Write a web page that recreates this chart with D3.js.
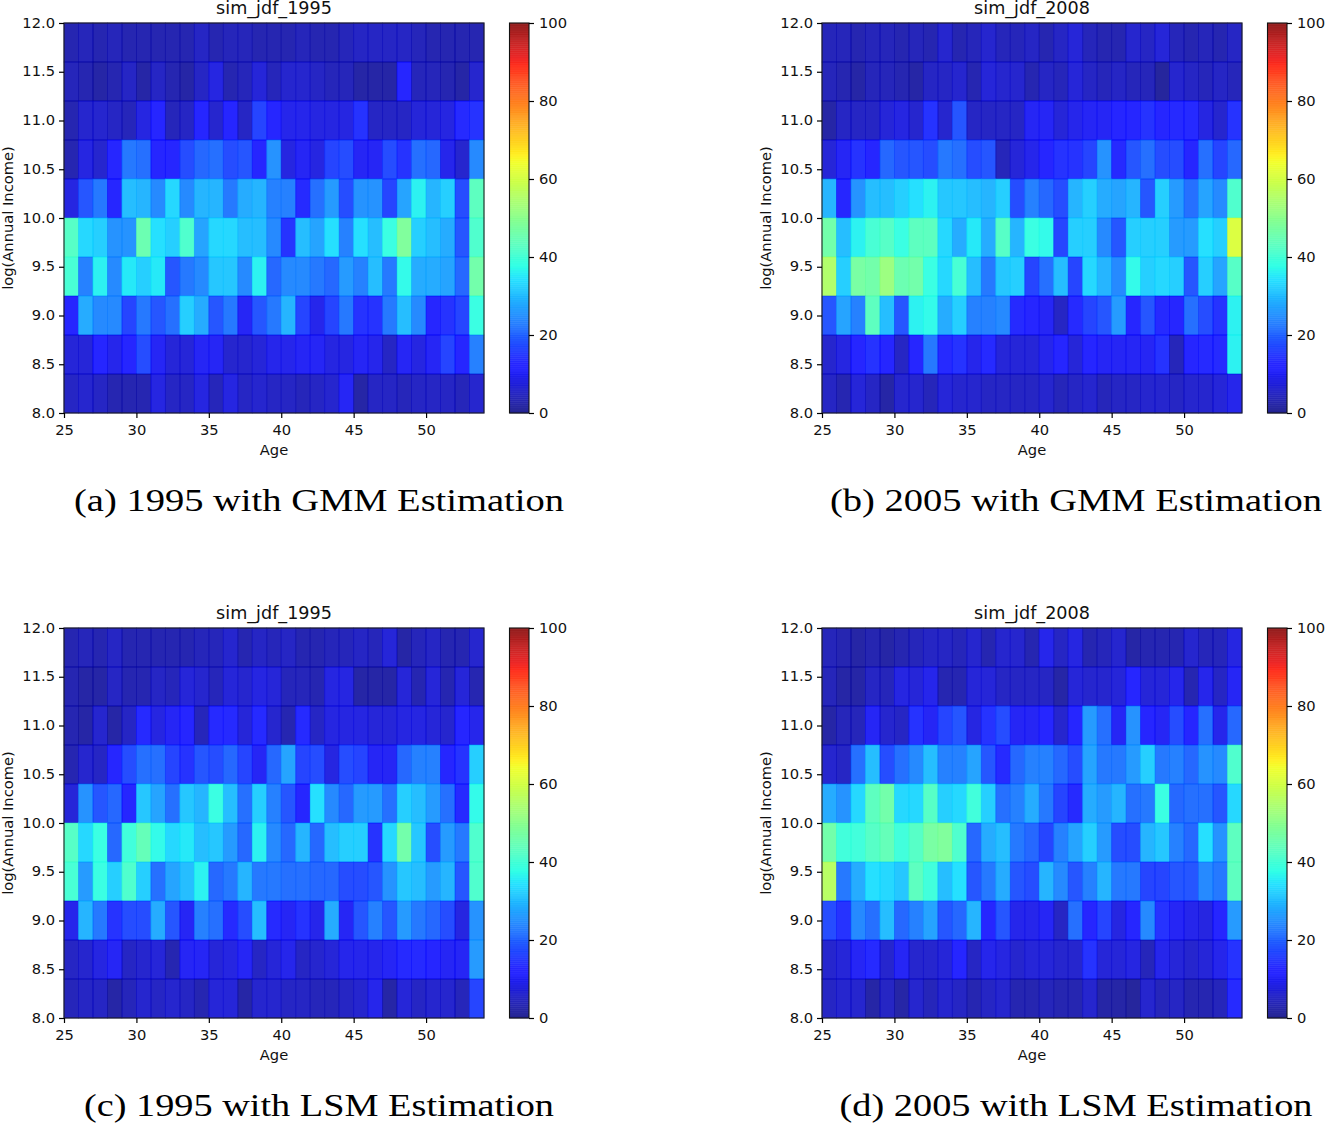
<!DOCTYPE html>
<html>
<head>
<meta charset="utf-8">
<script src="https://d3js.org/d3.v7.min.js"></script>
<style>
body { margin: 0; background: #fff; }
text { font-family: "DejaVu Sans"; fill: #111; }
.caption { font-family: "Liberation Serif"; fill: #000; }
</style>
</head>
<body>
<script>
var w = 1325;
var h = 1125;

var ageEdges = [25,26,27,28,29,30,31,32,33,34,35,36,37,38,39,40,41,42,43,44,45,46,47,48,49,50,51,52,53,54];
var incomeEdges = [12.0,11.6,11.2,10.8,10.4,10.0,9.6,9.2,8.8,8.4,8.0];
var ageTicks = [25,30,35,40,45,50];
var incomeTicks = [8,8.5,9,9.5,10,10.5,11,11.5,12];
var colorTicks = [0,20,40,60,80,100];

// each row runs top to bottom, 12.0 down to 8.0
var gmm1995 = [
  [3,4,3,4,3,3,3,3,3,5,3,4,4,3,3,3,4,3,3,4,5,5,5,5,4,3,3,3,3],
  [4,3,2,3,5,2,5,3,2,5,8,3,4,7,4,6,6,5,4,4,2,2,2,12,4,4,3,2,6],
  [3,6,6,5,4,8,11,4,5,11,6,11,5,16,11,9,9,8,8,8,14,5,5,5,7,7,8,13,14],
  [3,8,6,11,22,21,12,12,17,20,21,17,18,11,25,8,10,8,16,17,10,10,17,14,21,20,9,6,24],
  [8,18,22,11,30,29,24,33,24,29,29,22,28,29,23,23,13,21,26,17,25,25,16,27,36,29,32,17,43],
  [42,33,32,25,25,45,34,32,41,27,33,33,30,30,24,14,30,27,34,23,34,30,38,48,32,30,28,18,41],
  [40,23,36,24,35,32,35,18,22,24,31,31,24,36,20,24,24,22,20,26,23,30,22,37,28,28,27,20,46],
  [11,28,24,24,16,22,18,21,32,28,18,22,10,18,22,29,16,9,16,22,14,14,22,30,24,11,14,16,38],
  [7,7,11,9,11,17,10,7,7,10,10,6,6,7,9,9,10,10,8,8,10,9,5,10,8,10,16,11,23],
  [5,6,5,3,3,3,8,5,5,8,4,8,5,6,5,5,4,5,6,10,2,5,5,4,5,5,5,4,6]
];
var gmm2005 = [
  [4,4,3,4,4,3,4,3,6,3,4,6,4,4,5,3,5,7,4,3,3,6,5,7,4,3,4,3,5],
  [4,3,2,4,4,3,2,5,5,6,3,7,6,6,3,5,4,7,5,4,5,4,4,1,6,5,4,5,4],
  [2,5,5,5,7,8,6,14,6,18,5,5,5,5,10,10,7,9,10,10,11,11,14,11,13,13,8,6,14],
  [7,10,14,11,20,18,18,17,22,21,17,18,4,7,9,11,14,14,16,25,13,18,21,17,17,11,21,16,20],
  [29,11,25,30,30,32,34,36,31,31,30,29,32,17,23,20,17,29,32,28,27,29,18,32,26,21,27,24,41],
  [46,30,36,40,42,38,43,43,33,28,35,28,42,29,38,37,16,32,32,24,18,32,32,32,26,26,34,32,61],
  [55,32,47,46,52,45,46,38,33,40,30,22,31,32,16,21,30,16,33,29,24,37,32,33,32,18,32,27,42],
  [18,27,23,43,30,18,36,37,28,32,23,23,24,13,11,10,5,13,16,18,26,11,18,13,11,21,17,14,36],
  [6,8,11,14,11,5,11,22,13,14,9,13,7,7,7,9,11,7,11,10,10,10,10,14,4,11,13,13,36],
  [5,3,7,5,2,6,6,4,7,6,6,5,5,5,5,6,4,5,6,4,5,5,6,6,5,6,6,7,9]
];
var lsm1995 = [
  [3,4,3,5,3,3,3,3,3,4,4,6,3,5,4,5,3,3,4,4,5,4,7,2,4,5,3,3,6],
  [3,2,2,5,3,3,5,4,7,6,4,7,6,8,7,4,4,3,8,8,2,2,2,7,3,7,3,7,3],
  [3,2,6,2,5,13,8,10,11,4,13,13,7,13,6,3,13,5,8,8,8,7,7,8,8,7,6,11,9],
  [3,6,5,11,17,21,21,16,14,18,17,20,16,10,20,27,16,17,8,17,16,10,10,20,23,23,11,14,32],
  [7,25,18,20,11,31,27,21,31,29,38,30,21,32,23,18,11,34,24,20,26,26,21,32,30,26,21,13,37],
  [42,33,38,20,39,44,37,33,35,30,31,26,20,36,24,20,29,20,30,32,32,14,33,46,31,17,26,22,41],
  [40,26,38,32,41,32,21,27,30,36,20,22,29,22,22,21,21,20,20,17,17,18,25,31,30,26,29,18,41],
  [9,29,22,14,17,17,28,18,10,23,21,13,17,30,13,10,14,9,28,10,18,23,18,26,22,20,17,8,25],
  [5,6,8,10,5,6,7,3,10,10,7,8,10,5,7,9,5,6,7,9,9,9,10,13,13,11,10,10,26],
  [4,5,5,2,4,6,5,6,5,3,7,7,2,6,6,5,5,4,4,5,6,9,2,7,5,6,6,4,16]
];
var lsm2005 = [
  [4,3,2,3,2,3,4,5,5,4,6,3,6,6,3,9,5,8,3,4,6,2,3,3,3,6,4,4,8],
  [4,2,2,5,4,8,7,9,3,3,7,7,5,5,5,5,2,7,6,6,7,11,7,7,9,3,9,5,10],
  [2,4,4,10,6,5,14,10,16,18,8,14,17,10,10,11,6,11,26,21,10,25,11,10,17,11,21,9,20],
  [6,5,21,30,17,21,24,30,23,23,27,18,13,20,23,23,20,17,27,22,22,26,32,22,23,20,25,24,41],
  [28,25,33,43,46,33,33,42,32,33,39,32,21,23,28,22,16,13,28,26,29,21,22,38,20,21,21,18,33],
  [46,39,39,42,44,39,42,47,48,41,20,28,30,22,20,16,23,27,32,26,17,17,29,31,23,20,34,25,43],
  [56,22,28,34,33,31,43,39,30,34,18,22,28,18,17,29,24,18,23,29,22,22,16,16,18,18,24,22,43],
  [17,14,24,21,30,20,23,27,18,20,29,11,18,9,9,10,5,21,11,16,8,11,24,14,10,9,8,11,26],
  [6,7,10,13,6,10,6,6,7,11,5,9,8,6,7,7,6,6,14,7,7,8,4,9,7,6,7,9,14],
  [5,6,6,2,5,2,6,4,6,5,3,5,6,3,3,4,3,3,6,2,2,1,6,4,5,3,3,4,13]
];

var panels = [
  {title: "sim_jdf_1995", caption: "(a) 1995 with GMM Estimation", values: gmm1995, left: 64, top: 23, capMid: 319, capWidth: 490},
  {title: "sim_jdf_2008", caption: "(b) 2005 with GMM Estimation", values: gmm2005, left: 822, top: 23, capMid: 1076, capWidth: 492},
  {title: "sim_jdf_1995", caption: "(c) 1995 with LSM Estimation", values: lsm1995, left: 64, top: 628, capMid: 319, capWidth: 470},
  {title: "sim_jdf_2008", caption: "(d) 2005 with LSM Estimation", values: lsm2005, left: 822, top: 628, capMid: 1076, capWidth: 473}
];

var plotW = 420;
var plotH = 390;
var barGap = 25.5;
var barW = 19.5;
var alpha = 0.85;

// matplotlib jet as piecewise channels
var red = d3.scaleLinear().domain([0, 0.35, 0.66, 0.89, 1]).range([0, 0, 255, 255, 128]);
var green = d3.scaleLinear().domain([0, 0.125, 0.375, 0.64, 0.91, 1]).range([0, 0, 255, 255, 0, 0]);
var blue = d3.scaleLinear().domain([0, 0.11, 0.34, 0.65, 1]).range([128, 255, 255, 0, 0]);
function jet(v) {
    var t = v / 100;
    return d3.rgb(red(t), green(t), blue(t)).formatHex();
}

var svg = d3.select("body")
            .append("svg")
            .attr("width", w)
            .attr("height", h);

var xScale = d3.scaleLinear().domain([25, 54]).range([0, plotW]);
var yScale = d3.scaleLinear().domain([8, 12]).range([plotH, 0]);
var cScale = d3.scaleLinear().domain([0, 100]).range([plotH, 0]);

function styleAxis(g) {
    g.selectAll("text").style("font-size", "14.7px").style("font-family", "DejaVu Sans").attr("fill", "#111");
    g.selectAll("line").attr("stroke", "#000").attr("stroke-width", 1.2);
    g.select(".domain").remove();
}

panels.forEach(function(p) {
    var g = svg.append("g").attr("transform", "translate(" + p.left + "," + p.top + ")");

    // cells, the thin stroke gives the dark seams of the alpha pcolor
    p.values.forEach(function(row, r) {
        g.append("g").selectAll("rect")
            .data(row)
            .enter()
            .append("rect")
            .attr("x", function(d, i) { return xScale(ageEdges[i]); })
            .attr("y", yScale(incomeEdges[r]))
            .attr("width", function(d, i) { return xScale(ageEdges[i + 1]) - xScale(ageEdges[i]); })
            .attr("height", yScale(incomeEdges[r + 1]) - yScale(incomeEdges[r]))
            .attr("fill", function(d) { return jet(d); })
            .attr("fill-opacity", alpha)
            .attr("stroke", function(d) { return jet(d); })
            .attr("stroke-opacity", 0.6)
            .attr("stroke-width", 0.8);
    });

    g.append("rect")
        .attr("width", plotW)
        .attr("height", plotH)
        .attr("fill", "none")
        .attr("stroke", "#222")
        .attr("stroke-width", 1.1);

    var xAxis = d3.axisBottom(xScale).tickValues(ageTicks).tickSize(5).tickPadding(6.5);
    g.append("g").attr("transform", "translate(0," + plotH + ")").call(xAxis).call(styleAxis);

    var yAxis = d3.axisLeft(yScale).tickValues(incomeTicks).tickSize(5).tickPadding(4).tickFormat(d3.format(".1f"));
    g.append("g").call(yAxis).call(styleAxis).selectAll("text").attr("dy", "0.28em");

    g.append("text")
        .attr("x", plotW / 2)
        .attr("y", -9)
        .attr("text-anchor", "middle")
        .style("font-size", "17.6px")
        .text(p.title);

    g.append("text")
        .attr("x", plotW / 2)
        .attr("y", plotH + 42)
        .attr("text-anchor", "middle")
        .style("font-size", "14.7px")
        .text("Age");

    g.append("text")
        .attr("transform", "translate(-51," + (plotH / 2) + ") rotate(-90)")
        .attr("text-anchor", "middle")
        .style("font-size", "14.7px")
        .text("log(Annual Income)");

    // colorbar
    var bar = g.append("g").attr("transform", "translate(" + (plotW + barGap) + ",0)");
    var steps = d3.range(0, 100, 0.5);
    bar.selectAll("rect")
        .data(steps)
        .enter()
        .append("rect")
        .attr("x", 0)
        .attr("y", function(d) { return cScale(d + 0.5); })
        .attr("width", barW)
        .attr("height", function(d) { return cScale(d) - cScale(d + 0.5) + 0.3; })
        .attr("fill", function(d) { return jet(d); })
        .attr("fill-opacity", alpha);
    bar.append("rect")
        .attr("width", barW)
        .attr("height", plotH)
        .attr("fill", "none")
        .attr("stroke", "#111")
        .attr("stroke-width", 1.1);
    var cAxis = d3.axisRight(cScale).tickValues(colorTicks).tickSize(5).tickPadding(5);
    bar.append("g").attr("transform", "translate(" + barW + ",0)").call(cAxis).call(styleAxis).selectAll("text").attr("dy", "0.28em");

    svg.append("text")
        .attr("class", "caption")
        .attr("x", p.capMid)
        .attr("y", p.top + 488)
        .attr("text-anchor", "middle")
        .attr("textLength", p.capWidth)
        .attr("lengthAdjust", "spacingAndGlyphs")
        .style("font-size", "32px")
        .text(p.caption);
});
</script>
</body>
</html>
